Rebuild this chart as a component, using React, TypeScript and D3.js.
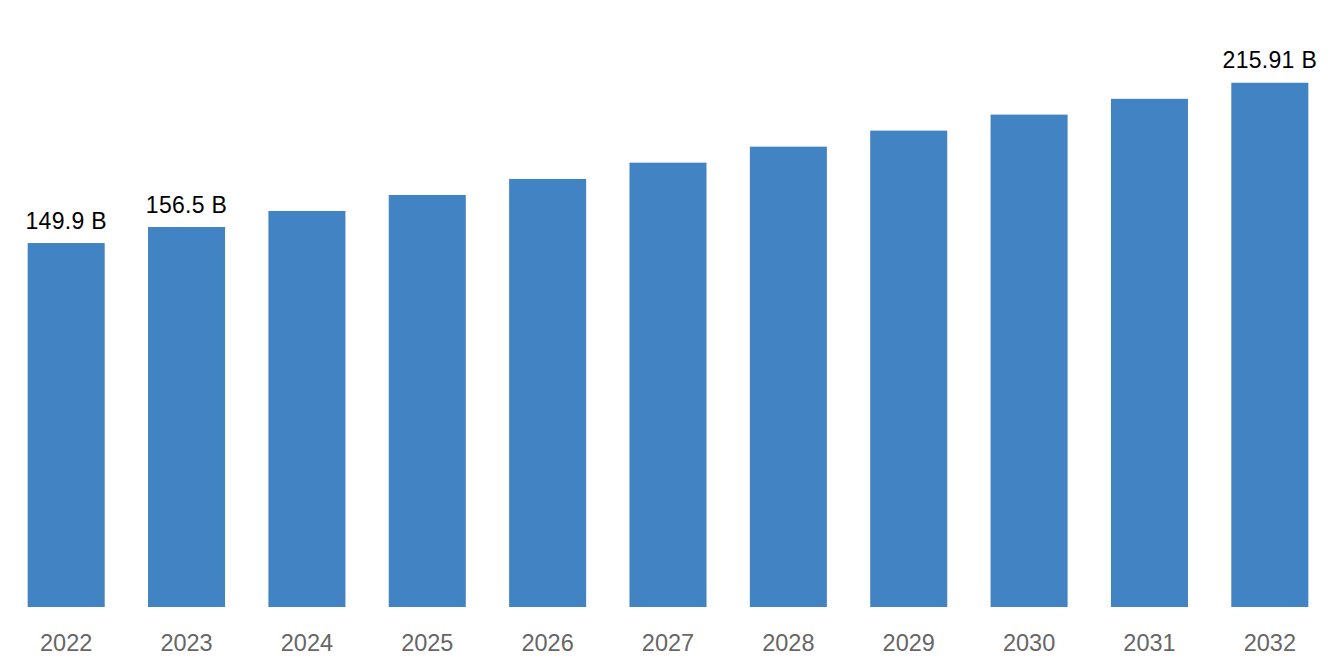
import React from "react";
import * as d3 from "d3";

const years = ["2022", "2023", "2024", "2025", "2026", "2027", "2028", "2029", "2030", "2031", "2032"];
const values = [149.9, 156.5, 163.1, 169.7, 176.3, 183.0, 189.6, 196.2, 202.8, 209.3, 215.91];
const valueLabels = ["149.9 B", "156.5 B", "", "", "", "", "", "", "", "", "215.91 B"];

const W = 1336;
const H = 668;

export default function App() {
  const x = d3.scaleBand<string>().domain(years).range([6, 1330]).paddingInner(0.36).paddingOuter(0.18);
  const y = d3.scaleLinear().domain([0, 250]).range([607, 0]);
  const font = "'Liberation Sans', Arial, Helvetica, sans-serif";
  return (
    <svg width={W} height={H} style={{ position: "absolute", left: 0, top: 0, background: "#fff" }}>
      {years.map((yr, i) => (
        <rect key={yr} x={x(yr)} y={y(values[i])} width={x.bandwidth()} height={y(0) - y(values[i])} fill="#4283c4" />
      ))}
      {years.map((yr, i) =>
        valueLabels[i] ? (
          <text key={"v" + yr} x={(x(yr) as number) + x.bandwidth() / 2} y={y(values[i]) - 14.5} textAnchor="middle"
            fontFamily={font} fontSize={23} letterSpacing={0.3} fill="#000">
            {valueLabels[i]}
          </text>
        ) : null
      )}
      {years.map((yr) => (
        <text key={"t" + yr} x={(x(yr) as number) + x.bandwidth() / 2} y={651} textAnchor="middle"
          fontFamily={font} fontSize={23.5} fill="#666">
          {yr}
        </text>
      ))}
    </svg>
  );
}
